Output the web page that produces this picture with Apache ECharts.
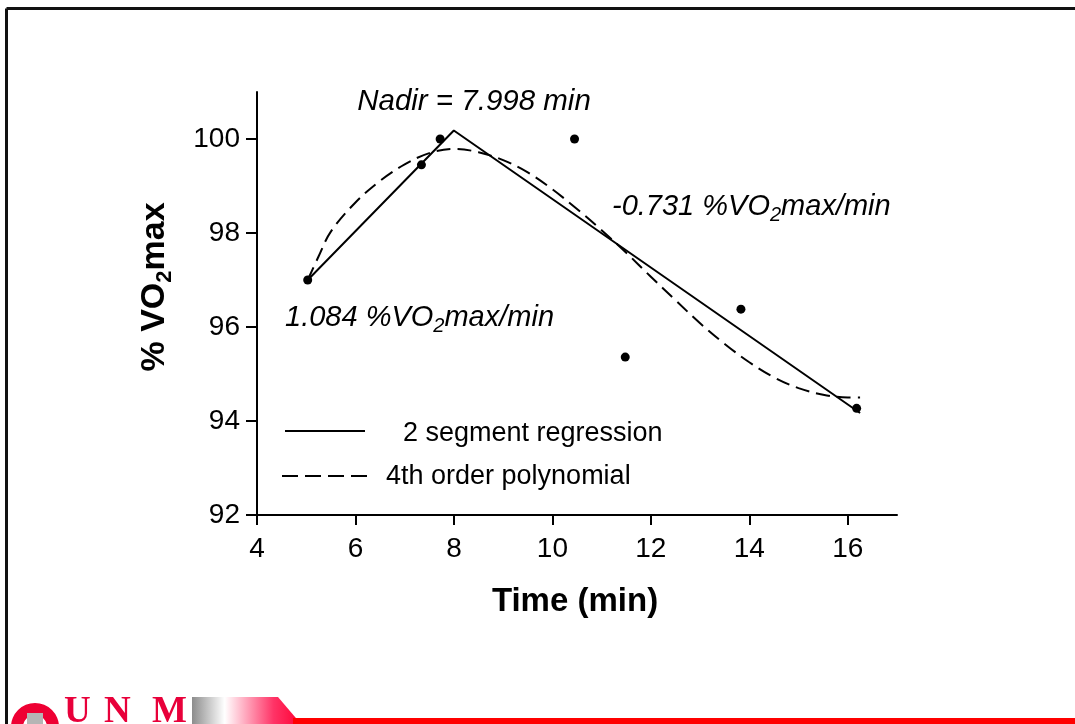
<!DOCTYPE html>
<html>
<head>
<meta charset="utf-8">
<title>% VO2max vs time</title>
<script src="https://cdn.jsdelivr.net/npm/echarts@6/dist/echarts.min.js"></script>
<style>
  html, body { margin: 0; padding: 0; background: #fff; }
  #chart { width: 1075px; height: 724px; }
</style>
</head>
<body>
<div id="chart"></div>
<script>
// measured points
var timeMin = [5.03, 7.34, 7.72, 10.45, 11.48, 13.83, 16.18];
var vo2Pct = [97.0, 99.45, 100.0, 100.0, 95.36, 96.38, 94.27];

// 2 segment regression (start, nadir, end)
var segTime = [5.03, 7.998, 16.25];
var segPct = [97.0, 100.18, 94.17];

// 4th order polynomial
var polyTime = [5.03, 5.25, 5.5, 6.0, 6.5, 7.0, 7.5, 8.0, 8.5, 9.0, 9.5, 10.0, 10.5,
                11.0, 11.5, 12.0, 12.5, 13.0, 13.5, 14.0, 14.5, 15.0, 15.5, 16.0, 16.25];
var polyPct = [97.0, 97.5, 98.03, 98.65, 99.11, 99.46, 99.70, 99.79, 99.72, 99.55, 99.29, 98.93, 98.51,
               98.06, 97.58, 97.07, 96.57, 96.08, 95.64, 95.25, 94.93, 94.70, 94.56, 94.50, 94.50];

var xTicks = [4, 6, 8, 10, 12, 14, 16];
var yTicks = [92, 94, 96, 98, 100];

function zip(a, b) {
  var out = [];
  for (var i = 0; i < a.length; i++) out.push([a[i], b[i]]);
  return out;
}

var FONT = 'Liberation Sans, Arial, sans-serif';
var chart = echarts.init(document.getElementById('chart'));

// rich styles for the slope labels (subscript 2)
var slopeRich = {
  t: { fontSize: 29, fontStyle: 'italic', fontFamily: FONT, color: '#000', lineHeight: 37 },
  s: { fontSize: 20, fontStyle: 'italic', fontFamily: FONT, color: '#000', verticalAlign: 'bottom' }
};

// footer letters
var logoStyle = function (ch) {
  return { text: ch, fontSize: 37, fontWeight: 'bold', fontFamily: 'Liberation Serif, serif', fill: '#e8003a', shadowColor: '#222', shadowOffsetX: 2, shadowOffsetY: 1 };
};

var option = {
  backgroundColor: '#fff',
  animation: false,
  grid: { left: 257, right: 178, top: 92, bottom: 209 },
  xAxis: {
    type: 'value',
    min: 4, max: 17,
    splitLine: { show: false },
    axisLine: { lineStyle: { color: '#000', width: 2 } },
    axisTick: { customValues: xTicks, length: 10, lineStyle: { color: '#000', width: 2 } },
    axisLabel: { customValues: xTicks, margin: 20, fontSize: 28, color: '#000', fontFamily: FONT }
  },
  yAxis: {
    type: 'value',
    min: 92, max: 101,
    splitLine: { show: false },
    axisLine: { show: true, lineStyle: { color: '#000', width: 2 } },
    axisTick: { show: true, customValues: yTicks, length: 11, lineStyle: { color: '#000', width: 2 } },
    axisLabel: { customValues: yTicks, margin: 17, fontSize: 28, color: '#000', fontFamily: FONT }
  },
  series: [
    {
      name: '2 segment regression',
      type: 'line',
      data: zip(segTime, segPct),
      symbol: 'none',
      lineStyle: { color: '#000', width: 2 },
      z: 3
    },
    {
      name: '4th order polynomial',
      type: 'line',
      data: zip(polyTime, polyPct),
      symbol: 'none',
      smooth: 0.35,
      lineStyle: { color: '#000', width: 2, type: [14, 7] },
      z: 3
    },
    {
      name: 'data',
      type: 'scatter',
      data: zip(timeMin, vo2Pct),
      symbol: 'circle',
      symbolSize: 9,
      itemStyle: { color: '#000', opacity: 1 },
      z: 4
    }
  ],
  graphic: [
    // slide frame
    { type: 'line', shape: { x1: 6.5, y1: 8.5, x2: 1075, y2: 8.5 }, style: { stroke: '#111', lineWidth: 3 } },
    { type: 'line', shape: { x1: 6.5, y1: 8.5, x2: 6.5, y2: 724 }, style: { stroke: '#111', lineWidth: 3 } },

    // axis titles
    {
      type: 'text', x: 155, y: 287, rotation: Math.PI / 2,
      style: {
        text: '{b|% VO}{s|2}{b|max}', align: 'center', verticalAlign: 'middle',
        rich: {
          b: { fontSize: 34, fontWeight: 'bold', fontFamily: FONT, color: '#000', lineHeight: 42 },
          s: { fontSize: 22, fontWeight: 'bold', fontFamily: FONT, color: '#000', verticalAlign: 'bottom' }
        }
      }
    },
    {
      type: 'text', x: 575, y: 602,
      style: { text: 'Time (min)', align: 'center', verticalAlign: 'middle', fontSize: 33, fontWeight: 'bold', fontFamily: FONT, fill: '#000' }
    },

    // annotations
    {
      type: 'text', x: 474, y: 102,
      style: { text: 'Nadir = 7.998 min', align: 'center', verticalAlign: 'middle', fontSize: 29.5, fontStyle: 'italic', fontFamily: FONT, fill: '#000' }
    },
    {
      type: 'text', x: 612, y: 207,
      style: { text: '{t|-0.731 %VO}{s|2}{t|max/min}', align: 'left', verticalAlign: 'middle', rich: slopeRich }
    },
    {
      type: 'text', x: 285, y: 318,
      style: { text: '{t|1.084 %VO}{s|2}{t|max/min}', align: 'left', verticalAlign: 'middle', rich: slopeRich }
    },

    // legend
    { type: 'line', shape: { x1: 285, y1: 431, x2: 365, y2: 431 }, style: { stroke: '#000', lineWidth: 2 } },
    {
      type: 'text', x: 403, y: 434,
      style: { text: '2 segment regression', verticalAlign: 'middle', fontSize: 27, fontFamily: FONT, fill: '#000' }
    },
    { type: 'line', shape: { x1: 282, y1: 476, x2: 367, y2: 476 }, style: { stroke: '#000', lineWidth: 2, lineDash: [16, 7] } },
    {
      type: 'text', x: 386, y: 477,
      style: { text: '4th order polynomial', verticalAlign: 'middle', fontSize: 27, fontFamily: FONT, fill: '#000' }
    },

    // UNM footer
    {
      type: 'polygon',
      shape: { points: [[192, 697], [278, 697], [301, 724], [192, 724]] },
      style: {
        fill: new echarts.graphic.LinearGradient(0, 0, 1, 0, [
          { offset: 0, color: '#8c8c8c' },
          { offset: 0.3, color: '#ffffff' },
          { offset: 0.75, color: '#ff3366' },
          { offset: 1, color: '#ff0033' }
        ])
      }
    },
    { type: 'rect', shape: { x: 293, y: 718, width: 782, height: 6 }, style: { fill: '#ff0000' } },
    {
      type: 'sector',
      shape: { cx: 35, cy: 727, r: 24, r0: 12, startAngle: Math.PI, endAngle: Math.PI * 2 },
      style: { fill: '#ee0033' }
    },
    { type: 'rect', shape: { x: 27, y: 713, width: 16, height: 11 }, style: { fill: '#b5b5b5' } },
    { type: 'text', x: 64, y: 694, style: logoStyle('U') },
    { type: 'text', x: 104, y: 694, style: logoStyle('N') },
    { type: 'text', x: 152, y: 694, style: logoStyle('M') }
  ]
};

chart.setOption(option);
</script>
</body>
</html>
